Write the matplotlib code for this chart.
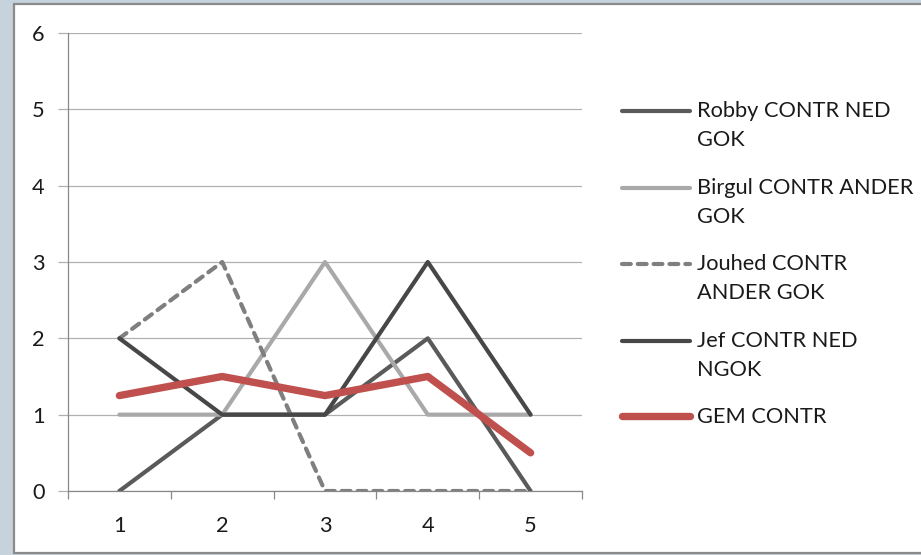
import numpy as np
import matplotlib.pyplot as plt
from matplotlib.legend_handler import HandlerLine2D
from matplotlib.patches import Rectangle

# contributions per round
rounds = [1, 2, 3, 4, 5]
robby = [0, 1, 1, 2, 0]
birgul = [1, 1, 3, 1, 1]
jouhed = [2, 3, 0, 0, 0]
jef = [2, 1, 1, 3, 1]
gem = [1.25, 1.5, 1.25, 1.5, 0.5]

labels = ["Robby CONTR NED\nGOK", "Birgul CONTR ANDER\nGOK", "Jouhed CONTR\nANDER GOK",
          "Jef CONTR NED\nNGOK", "GEM CONTR"]

FS = 15.7
LINESP = 1.58
LINE_PT = 21.6  # distance between text lines in a legend entry, points

plt.rcParams["font.family"] = ["Lato", "DejaVu Sans"]

W, H = 921, 555
fig = plt.figure(figsize=(W / 100, H / 100), dpi=100, facecolor="#c7d3dc")

# white chart area with grey frame
fig.patches.append(Rectangle((14 / W, 1 - 553 / H), 1.0, (553 - 4) / H, transform=fig.transFigure,
                             facecolor="white", edgecolor="#8a8a8a", linewidth=1.6, zorder=-5))

ax = fig.add_axes([68 / W, 1 - 491 / H, (582 - 68) / W, (491 - 33) / H])
ax.set_facecolor("none")

kw = dict(solid_capstyle="round", solid_joinstyle="round", dash_capstyle="round")
ax.plot(rounds, robby, color="#5a5a5a", lw=3.0, label=labels[0], **kw)
ax.plot(rounds, birgul, color="#a9a9a9", lw=3.0, label=labels[1], **kw)
ax.plot(rounds, jouhed, color="#7f7f7f", lw=3.0, dashes=(2.1, 1.7), label=labels[2], **kw)
ax.plot(rounds, jef, color="#474747", lw=3.0, label=labels[3], **kw)
ax.plot(rounds, gem, color="#c0504d", lw=5.3, label=labels[4], **kw)

ax.set_xlim(0.5, 5.5)
ax.set_ylim(0, 6)
ax.set_yticks(range(0, 7))
ax.yaxis.grid(True, color="#b0b0b0", lw=0.9)
ax.set_axisbelow(True)

ax.set_xticks(np.arange(0.5, 6, 1))
ax.set_xticklabels([])
ax.set_xticks(rounds, minor=True)
ax.set_xticklabels([str(r) for r in rounds], minor=True)
ax.tick_params(axis="x", which="major", length=6, width=0.9, color="#888888", direction="out")
ax.tick_params(axis="x", which="minor", length=0, pad=18, labelsize=FS, labelcolor="#1a1a1a")
ax.tick_params(axis="y", length=7, width=0.9, color="#b0b0b0", pad=10, labelsize=FS,
               labelcolor="#1a1a1a")

for s in ["top", "right"]:
    ax.spines[s].set_visible(False)
for s in ["left", "bottom"]:
    ax.spines[s].set_color("#888888")
    ax.spines[s].set_linewidth(0.9)


class FirstLineHandler(HandlerLine2D):
    # put the legend line next to the first text line instead of the middle
    def create_artists(self, legend, orig_handle, xdescent, ydescent, width, height, fontsize, trans):
        artists = super().create_artists(legend, orig_handle, xdescent, ydescent, width, height,
                                         fontsize, trans)
        n = orig_handle.get_label().count("\n")
        for a in artists:
            a.set_ydata(np.asarray(a.get_ydata(), dtype=float) + n * 0.5 * LINE_PT)
        return artists


handles = ax.get_lines()
leg = fig.legend(handles, [h.get_label() for h in handles], loc="upper left",
                 bbox_to_anchor=(622 / W, 1 - 101 / H), frameon=False, fontsize=FS,
                 handlelength=3.1, handletextpad=0.33, labelspacing=1.25, borderpad=0,
                 borderaxespad=0, handler_map={h: FirstLineHandler() for h in handles})
for t in leg.get_texts():
    t.set_linespacing(LINESP)
    t.set_color("#1a1a1a")

fig.savefig("out.png", dpi=100, facecolor=fig.get_facecolor())
